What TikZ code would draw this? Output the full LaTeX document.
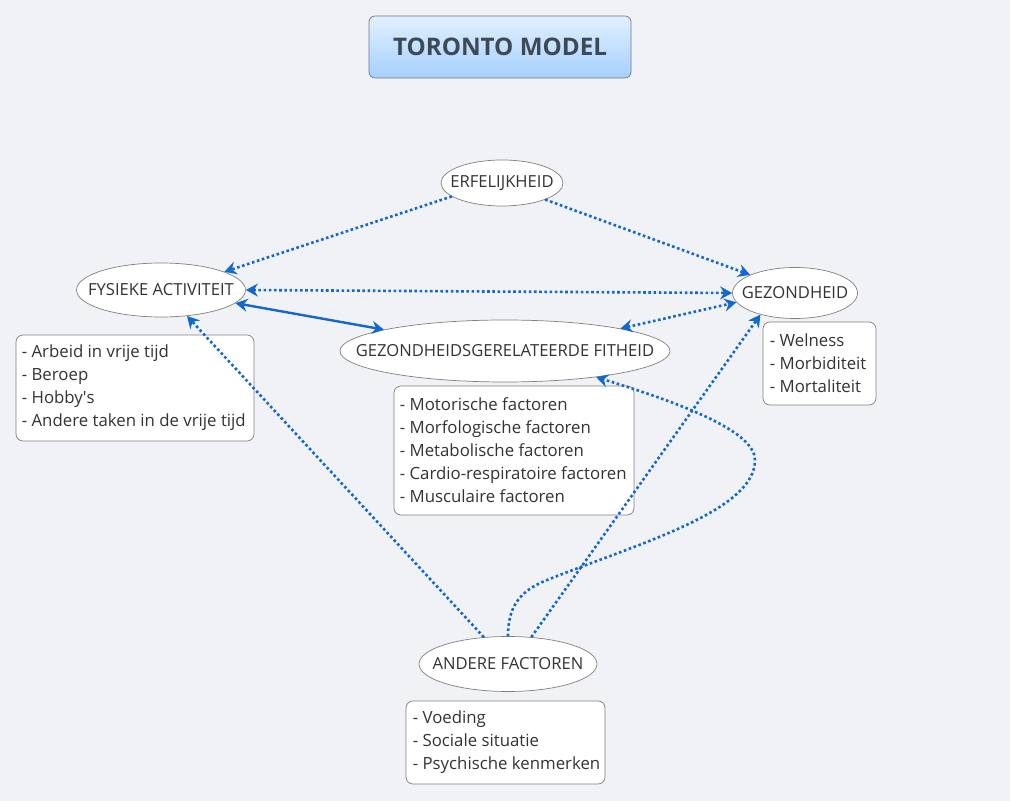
\documentclass[tikz,border=0pt]{standalone}
\usepackage{fontspec}
\setmainfont{Open Sans}
\usetikzlibrary{arrows.meta,shapes.geometric}
\definecolor{bg}{HTML}{F1F2F6}
\definecolor{lnk}{HTML}{1268CC}
\definecolor{txt}{HTML}{333333}
\definecolor{brd}{HTML}{808080}
\definecolor{ttop}{HTML}{E2F0FE}
\definecolor{tbot}{HTML}{A4D0FD}
\definecolor{ttxt}{HTML}{3D4A55}
\tikzset{
  ell/.style={ellipse, draw=brd, line width=0.7pt, fill=white, inner sep=0pt},
  boxn/.style={rectangle, rounded corners=7pt, draw=brd, line width=0.7pt, fill=white, inner sep=0pt},
  btxt/.style={anchor=west, align=left, inner sep=0pt, text=txt, font=\fontsize{16.8}{23}\selectfont},
  etxt/.style={text=txt, font=\fontsize{16.6}{20}\selectfont},
  dotl/.style={draw=lnk, line width=2.6pt, dash pattern=on 2.6pt off 2.6pt},
  soll/.style={draw=lnk, line width=2.4pt},
  tip/.style={-{Stealth[length=12pt,width=13pt,inset=4pt]}},
  tips/.style={{Stealth[length=12pt,width=13pt,inset=4pt]}-{Stealth[length=12pt,width=13pt,inset=4pt]}},
}
\begin{document}
\begin{tikzpicture}[x=1pt,y=1pt]
\fill[bg] (0,0) rectangle (1010,801);
\useasboundingbox (0,0) rectangle (1010,801);

% title
\node[rectangle, rounded corners=6pt, draw=brd!90!blue, line width=0.7pt,
  top color=ttop, bottom color=tbot, minimum width=262pt, minimum height=62pt,
  text=ttxt, font=\bfseries\fontsize{24.2}{28}\selectfont] (title) at (500,754) {TORONTO MODEL};

% ellipses
\node[ell, minimum width=122pt, minimum height=46pt, label={[etxt]center:ERFELIJKHEID}] (erf) at (502,618) {};
\node[ell, minimum width=169pt, minimum height=54pt, label={[etxt]center:FYSIEKE ACTIVITEIT}] (fys) at (161,511) {};
\node[ell, minimum width=125pt, minimum height=51pt, label={[etxt]center:GEZONDHEID}] (gez) at (795,508) {};
\node[ell, minimum width=330pt, minimum height=62pt, label={[etxt]center:GEZONDHEIDSGERELATEERDE FITHEID}] (fit) at (505,450) {};
\node[ell, minimum width=178pt, minimum height=55pt, label={[etxt]center:ANDERE FACTOREN}] (and) at (508,137) {};

% boxes
\node[boxn, minimum width=238pt, minimum height=106pt] (b1) at (135,413) {};
\node[btxt] (b1t) at ([xshift=6pt]b1.west) {- Arbeid in vrije tijd\\- Beroep\\- Hobby\textquotesingle s\\- Andere taken in de vrije tijd};
\node[boxn, minimum width=113pt, minimum height=83pt] (b2) at (819.5,437.5) {};
\node[btxt] (b2t) at ([xshift=7pt]b2.west) {- Welness\\- Morbiditeit\\- Mortaliteit};
\node[boxn, minimum width=240pt, minimum height=129pt] (b3) at (514,350.5) {};
\node[btxt] (b3t) at ([xshift=6pt]b3.west) {- Motorische factoren\\- Morfologische factoren\\- Metabolische factoren\\- Cardio-respiratoire factoren\\- Musculaire factoren};
\node[boxn, minimum width=199pt, minimum height=83pt] (b4) at (505.5,58.5) {};
\node[btxt] (b4t) at ([xshift=7pt]b4.west) {- Voeding\\- Sociale situatie\\- Psychische kenmerken};

% connectors
\draw[dotl, tip] (erf.195.6) -- (fys.16.3);
\draw[dotl, tip] (erf.339.7) -- (gez.158.2);
\draw[dotl, tips] (fys.0) -- (gez.180);
\draw[soll, tips] (fys.350.3) -- (fit.170.2);
\draw[dotl, tips] (fit.11.3) -- (gez.189);
\draw[dotl, tip] (and.132.8) -- (fys.315);
\draw[dotl, tip] (and.49.6) -- (gez.212.3);
\coordinate (c1) at (547,221);
\coordinate (c2) at (755,341);
\draw[dotl, tip] (and.90) .. controls (508,195) and (520,210) .. (c1)
  .. controls (640,258) and (755,290) .. (c2)
  .. controls (755,370) and (680,398) .. (fit.344.4);
\end{tikzpicture}
\end{document}
